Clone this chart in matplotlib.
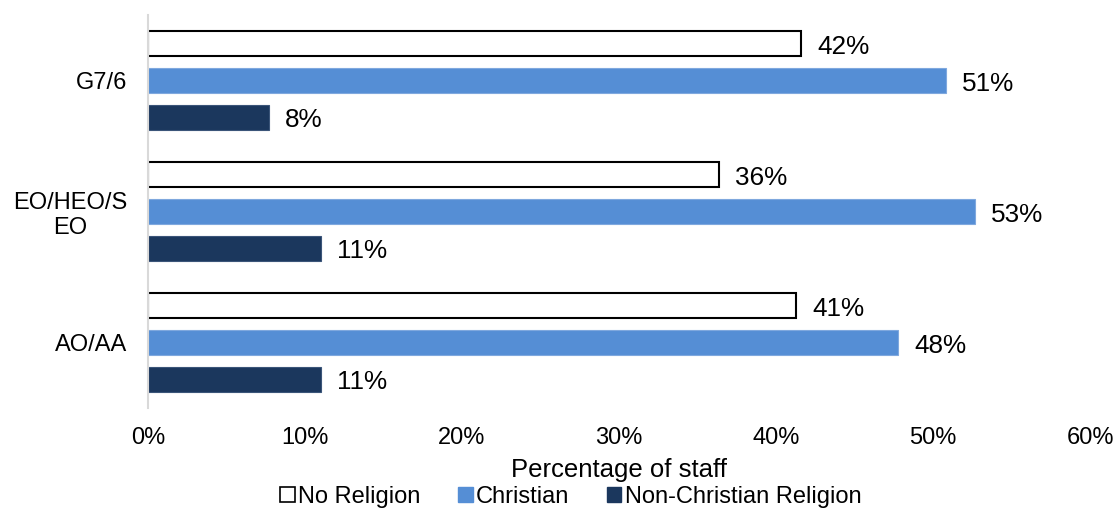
import matplotlib
matplotlib.use("Agg")
import matplotlib.pyplot as plt
import numpy as np
from matplotlib.patches import Patch

plt.rcParams['font.family'] = ['Liberation Sans', 'DejaVu Sans']

categories = ["G7/6", "EO/HEO/S\nEO", "AO/AA"]
series_names = ["No Religion", "Christian", "Non-Christian Religion"]
no_religion = [41.6, 36.4, 41.3]
christian = [50.8, 52.7, 47.8]
non_christian = [7.7, 11.0, 11.0]
no_religion_labels = ["42%", "36%", "41%"]
christian_labels = ["51%", "53%", "48%"]
non_christian_labels = ["8%", "11%", "11%"]
x_ticks = [0, 10, 20, 30, 40, 50, 60]
x_tick_labels = ["0%", "10%", "20%", "30%", "40%", "50%", "60%"]

fig = plt.figure(figsize=(11.18, 5.09), dpi=100)
ax = fig.add_axes([148/1118, 1-408/509, (1090-148)/1118, (408-15)/509])

y = np.arange(len(categories))
off = 0.282
h = 0.195
series = [
    (no_religion, no_religion_labels, dict(color="white", edgecolor="black", linewidth=1.5), -off),
    (christian, christian_labels, dict(color="#558ED5", edgecolor="#7FA8DE", linewidth=0.8), 0.0),
    (non_christian, non_christian_labels, dict(color="#1B375D", edgecolor="#3B5579", linewidth=0.8), off),
]
for vals, labs, style, o in series:
    bars = ax.barh(y + o, vals, height=h, **style)
    for b, v, lab in zip(bars, vals, labs):
        ax.annotate(lab, (v, b.get_y() + b.get_height()/2), xytext=(16, -3),
                    textcoords="offset pixels", ha="left", va="center",
                    fontsize=18.8, color="black")

ax.set_ylim(2.5, -0.5)
ax.set_xlim(0, 60)
ax.set_xticks(x_ticks)
ax.set_xticklabels(x_tick_labels, fontsize=17)
ax.set_yticks(y)
ax.set_yticklabels(categories, fontsize=17)
for t in ax.get_yticklabels():
    t.set_multialignment("center")
ax.tick_params(axis="x", length=0, pad=14)
ax.tick_params(axis="y", length=0, pad=15)
for s in ["top", "right", "bottom"]:
    ax.spines[s].set_visible(False)
ax.spines["left"].set_color("#D9D9D9")
ax.spines["left"].set_linewidth(1.5)

ax.set_xlabel("Percentage of staff", fontsize=18.5, labelpad=6)

handles = [Patch(facecolor="white", edgecolor="black", linewidth=1.2),
           Patch(facecolor="#558ED5", edgecolor="#558ED5"),
           Patch(facecolor="#1B375D", edgecolor="#1B375D")]
fig.legend(handles, series_names, loc="center", bbox_to_anchor=(571/1118, 1-497/509),
           ncol=3, frameon=False, fontsize=17, handlelength=0.6, handleheight=0.6,
           handletextpad=0.15, columnspacing=1.6, borderpad=0, borderaxespad=0)

fig.savefig("out.png", dpi=100)
